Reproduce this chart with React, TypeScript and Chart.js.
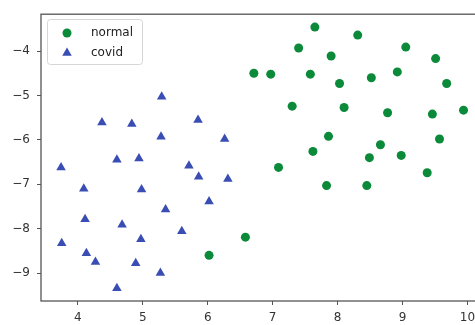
import React, { useEffect, useRef } from "react";
import { Chart, registerables } from "chart.js";

Chart.register(...registerables);

const normalX = [7.65, 8.31, 7.40, 7.90, 9.05, 9.51, 6.71, 6.97, 7.58, 8.03, 8.52, 8.92, 9.68, 7.30, 8.10, 8.77, 9.46, 9.94, 7.86, 9.57, 7.62, 8.66, 8.49, 8.98, 7.09, 7.83, 8.45, 9.38, 6.58, 6.02];
const normalY = [-3.46, -3.64, -3.93, -4.11, -3.91, -4.17, -4.50, -4.52, -4.52, -4.73, -4.60, -4.47, -4.73, -5.24, -5.27, -5.39, -5.42, -5.33, -5.92, -5.98, -6.26, -6.11, -6.40, -6.35, -6.62, -7.03, -7.03, -6.74, -8.19, -8.60];

const covidX = [4.37, 4.83, 5.29, 5.28, 5.85, 6.26, 3.74, 4.60, 4.94, 5.71, 5.86, 6.31, 4.09, 4.98, 6.02, 5.35, 4.11, 4.68, 5.60, 4.97, 3.75, 4.13, 4.27, 4.89, 5.27, 4.60];
const covidY = [-5.61, -5.64, -5.03, -5.93, -5.55, -5.98, -6.62, -6.45, -6.42, -6.58, -6.83, -6.88, -7.10, -7.12, -7.39, -7.57, -7.79, -7.91, -8.06, -8.24, -8.33, -8.55, -8.75, -8.78, -9.00, -9.34];

const seriesNames = ["normal", "covid"];
const xTicks = [4, 5, 6, 7, 8, 9, 10];
const yTicks = [-4, -5, -6, -7, -8, -9];

const GREEN = "#0b8a3a";
const BLUE = "#3a4db3";
const AXIS = "#555555";
const FONT = "'DejaVu Sans', sans-serif";

const fmt = (v: number) => String(v).replace("-", "\u2212");

const framePlugin = {
  id: "frame",
  afterDraw(chart: any) {
    const { ctx, chartArea } = chart;
    ctx.save();
    ctx.strokeStyle = AXIS;
    ctx.lineWidth = 1.3;
    ctx.strokeRect(chartArea.left, chartArea.top, chartArea.right - chartArea.left, chartArea.bottom - chartArea.top);

    // legend box
    const lx = 47, ly = 19, lw = 95, lh = 45;
    ctx.fillStyle = "rgba(255,255,255,0.85)";
    ctx.strokeStyle = "#d6d6d6";
    ctx.lineWidth = 1;
    ctx.beginPath();
    (ctx as any).roundRect(lx + 0.5, ly + 0.5, lw, lh, 3);
    ctx.fill();
    ctx.stroke();

    ctx.font = `12px ${FONT}`;
    ctx.textBaseline = "middle";
    ctx.textAlign = "left";
    chart.data.datasets.forEach((ds: any, i: number) => {
      const cy = ly + 14 + i * 20;
      ctx.fillStyle = ds.backgroundColor;
      ctx.beginPath();
      if (ds.pointStyle === "triangle") {
        const r = 5.5;
        ctx.moveTo(67, cy - r);
        ctx.lineTo(67 + r * Math.sin(2 * Math.PI / 3), cy - r * Math.cos(2 * Math.PI / 3));
        ctx.lineTo(67 + r * Math.sin(4 * Math.PI / 3), cy - r * Math.cos(4 * Math.PI / 3));
        ctx.closePath();
      } else {
        ctx.arc(67, cy, 4.5, 0, Math.PI * 2);
      }
      ctx.fill();
      ctx.fillStyle = "#222";
      ctx.fillText(ds.label, 91, cy);
    });
    ctx.restore();
  },
};

export default function App() {
  const ref = useRef<HTMLCanvasElement | null>(null);

  useEffect(() => {
    if (!ref.current) return;
    const chart = new Chart(ref.current, {
      type: "scatter",
      data: {
        datasets: [
          {
            label: seriesNames[0],
            data: normalX.map((x, i) => ({ x, y: normalY[i] })),
            backgroundColor: GREEN,
            borderColor: GREEN,
            pointStyle: "circle",
            pointRadius: 4.5,
            borderWidth: 0,
          },
          {
            label: seriesNames[1],
            data: covidX.map((x, i) => ({ x, y: covidY[i] })),
            backgroundColor: BLUE,
            borderColor: BLUE,
            pointStyle: "triangle",
            pointRadius: 5.5,
            borderWidth: 0,
          },
        ],
      },
      options: {
        responsive: false,
        animation: false,
        devicePixelRatio: 1,
        layout: { padding: { top: 13, right: 5, left: 0, bottom: 0 } },
        plugins: { legend: { display: false }, tooltip: { enabled: false } },
        scales: {
          x: {
            type: "linear",
            min: 3.431,
            max: 10.34,
            border: { display: false },
            grid: { display: true, drawOnChartArea: false, drawTicks: true, tickLength: 4, color: AXIS, lineWidth: 1 },
            afterBuildTicks: (scale: any) => {
              scale.ticks = xTicks.map((v) => ({ value: v }));
            },
            afterFit: (scale: any) => {
              scale.height = 24;
            },
            ticks: {
              font: { family: FONT, size: 12 },
              color: "#333",
              padding: 6,
              maxRotation: 0,
              callback: (v: any) => fmt(Number(v)),
            },
          },
          y: {
            type: "linear",
            min: -9.628,
            max: -3.17,
            border: { display: false },
            grid: { display: true, drawOnChartArea: false, drawTicks: true, tickLength: 4, color: AXIS, lineWidth: 1 },
            afterBuildTicks: (scale: any) => {
              scale.ticks = yTicks.slice().reverse().map((v) => ({ value: v }));
            },
            afterFit: (scale: any) => {
              scale.width = 41;
            },
            ticks: {
              font: { family: FONT, size: 12 },
              color: "#333",
              padding: 7,
              callback: (v: any) => fmt(Number(v)),
            },
          },
        },
      },
      plugins: [framePlugin],
    });
    return () => chart.destroy();
  }, []);

  return (
    <div style={{ position: "fixed", left: 0, top: 0, width: 475, height: 325, overflow: "hidden", background: "#fff" }}>
      <canvas ref={ref} width={495} height={325} style={{ display: "block", width: 495, height: 325 }} />
    </div>
  );
}
